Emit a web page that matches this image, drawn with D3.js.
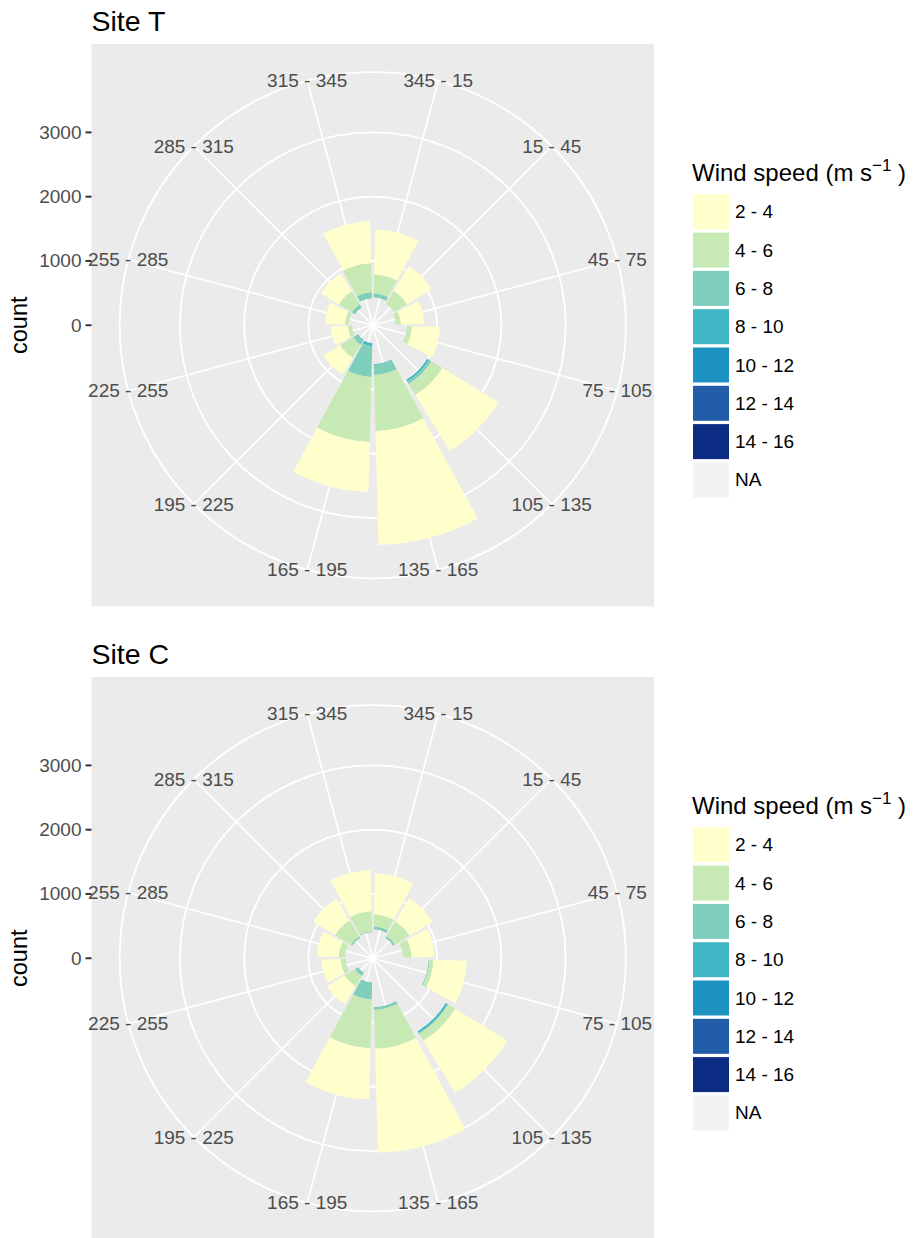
<!DOCTYPE html>
<html>
<head>
<meta charset="utf-8">
<script src="https://cdn.jsdelivr.net/npm/d3@7"></script>
<style>
  body { margin: 0; background: #fff; }
  svg { display: block; font-family: "Liberation Sans", Arial, sans-serif; }
</style>
</head>
<body>
<svg width="918" height="1238"></svg>
<script>
// direction bins, clockwise from the top
const directions = ["345 - 15", "15 - 45", "45 - 75", "75 - 105", "105 - 135", "135 - 165",
                    "165 - 195", "195 - 225", "225 - 255", "255 - 285", "285 - 315", "315 - 345"];
const speedBins = ["2 - 4", "4 - 6", "6 - 8", "8 - 10", "10 - 12", "12 - 14", "14 - 16", "NA"];
const binColors = ["#ffffcc", "#c7e9b4", "#7fcdbb", "#41b6c4", "#1d91c0", "#225ea8", "#0c2c84", "none"];
const countTicks = [0, 1000, 2000, 3000];

// Site T counts per direction
const siteT_na    = [435, 390, 360, 530, 995, 605, 280, 265, 325, 375, 325, 420];
const siteT_2_4   = [700, 450, 360, 435, 1025, 1775, 780, 305, 265, 310, 325, 655];
const siteT_4_6   = [295, 235, 80, 80, 200, 870, 1010, 235, 60, 60, 235, 450];
const siteT_6_8   = [60, 0, 0, 0, 45, 155, 480, 95, 0, 0, 60, 95];
const siteT_8_10  = [0, 0, 0, 0, 30, 15, 45, 0, 0, 0, 0, 0];
const siteT_10_12 = [0, 0, 0, 0, 0, 0, 0, 0, 0, 0, 0, 0];
const siteT_12_14 = [0, 0, 0, 0, 0, 0, 0, 0, 0, 0, 0, 0];
const siteT_14_16 = [0, 0, 0, 0, 0, 0, 0, 0, 0, 0, 0, 0];

// Site C counts per direction
const siteC_na    = [450, 375, 475, 870, 1335, 760, 375, 265, 420, 435, 375, 405];
const siteC_2_4   = [640, 420, 360, 520, 950, 1615, 795, 325, 295, 340, 395, 645];
const siteC_4_6   = [185, 265, 130, 60, 125, 605, 760, 185, 80, 95, 290, 310];
const siteC_6_8   = [45, 30, 0, 15, 15, 45, 265, 60, 0, 0, 25, 15];
const siteC_8_10  = [0, 0, 0, 0, 30, 0, 0, 0, 0, 0, 0, 0];
const siteC_10_12 = [0, 0, 0, 0, 0, 0, 0, 0, 0, 0, 0, 0];
const siteC_12_14 = [0, 0, 0, 0, 0, 0, 0, 0, 0, 0, 0, 0];
const siteC_14_16 = [0, 0, 0, 0, 0, 0, 0, 0, 0, 0, 0, 0];

function makeRows(series) {
  return directions.map((dir, i) => {
    const row = { dir: dir };
    speedBins.forEach((b, k) => { row[b] = series[k][i]; });
    return row;
  });
}

const siteT = makeRows([siteT_2_4, siteT_4_6, siteT_6_8, siteT_8_10, siteT_10_12, siteT_12_14, siteT_14_16, siteT_na]);
const siteC = makeRows([siteC_2_4, siteC_4_6, siteC_6_8, siteC_8_10, siteC_10_12, siteC_12_14, siteC_14_16, siteC_na]);

const svg = d3.select('svg');

const panelX = 91.5;
const size = 562.5;
const outerR = 0.45 * size;

const color = d3.scaleOrdinal().domain(speedBins).range(binColors);
const r = d3.scaleLinear().domain([0, 3500]).range([0, 0.4 * size]);
const theta = d3.scaleBand().domain(directions).range([0, 2 * Math.PI])
    .paddingInner(0.1).paddingOuter(0.05);

// NA sits at the centre, the slowest class on the outside
const stack = d3.stack().keys(speedBins.slice().reverse());

function drawPanel(title, rows, panelY) {
  const cx = panelX + size / 2;
  const cy = panelY + size / 2;

  svg.append('text')
      .attr('x', panelX)
      .attr('y', panelY - 13.5)
      .attr('font-size', 28.5)
      .attr('fill', '#000')
      .text(title);

  svg.append('rect')
      .attr('x', panelX).attr('y', panelY)
      .attr('width', size).attr('height', size)
      .attr('fill', '#ebebeb');

  const g = svg.append('g').attr('transform', `translate(${cx}, ${cy})`);

  // grid circles
  g.selectAll('circle.grid')
    .data(countTicks.filter(d => d > 0).map(d => r(d)).concat([outerR]))
    .enter().append('circle')
      .attr('r', d => d)
      .attr('fill', 'none')
      .attr('stroke', '#fff')
      .attr('stroke-width', 1.9);

  const mid = d => theta(d) + theta.bandwidth() / 2;

  // radial lines
  g.selectAll('line.spoke')
    .data(directions)
    .enter().append('line')
      .attr('x1', 0).attr('y1', 0)
      .attr('x2', d => outerR * Math.sin(mid(d)))
      .attr('y2', d => -outerR * Math.cos(mid(d)))
      .attr('stroke', '#fff')
      .attr('stroke-width', 1.7);

  // stacked bars
  const arc = d3.arc()
      .innerRadius(d => r(d[0]))
      .outerRadius(d => r(d[1]))
      .startAngle(d => theta(d.data.dir))
      .endAngle(d => theta(d.data.dir) + theta.bandwidth());

  const layers = stack(rows);
  g.selectAll('g.layer')
    .data(layers)
    .enter().append('g')
      .attr('fill', d => color(d.key))
    .selectAll('path')
    .data(d => d.filter(s => s[1] > s[0]))
    .enter().append('path')
      .attr('d', arc);

  // direction labels
  g.selectAll('text.dir')
    .data(directions)
    .enter().append('text')
      .attr('x', d => outerR * Math.sin(mid(d)))
      .attr('y', d => -outerR * Math.cos(mid(d)))
      .attr('text-anchor', 'middle')
      .attr('dominant-baseline', 'central')
      .attr('font-size', 19)
      .attr('fill', '#4d4d4d')
      .text(d => d);

  // count axis on the left
  const ax = svg.append('g');
  ax.selectAll('line')
    .data(countTicks)
    .enter().append('line')
      .attr('x1', panelX - 6).attr('x2', panelX)
      .attr('y1', d => cy - r(d)).attr('y2', d => cy - r(d))
      .attr('stroke', '#333')
      .attr('stroke-width', 2);
  ax.selectAll('text')
    .data(countTicks)
    .enter().append('text')
      .attr('x', panelX - 10)
      .attr('y', d => cy - r(d))
      .attr('text-anchor', 'end')
      .attr('dominant-baseline', 'central')
      .attr('font-size', 19)
      .attr('fill', '#4d4d4d')
      .text(d => d);

  svg.append('text')
      .attr('transform', `translate(27, ${cy}) rotate(-90)`)
      .attr('text-anchor', 'middle')
      .attr('font-size', 23.5)
      .attr('fill', '#000')
      .text('count');

  // legend
  const lg = svg.append('g').attr('transform', `translate(693, ${panelY + 137})`);
  const lt = lg.append('text').attr('x', -1).attr('y', 0).attr('font-size', 24).attr('fill', '#000');
  lt.append('tspan').text('Wind speed (m s');
  lt.append('tspan').attr('dy', -10).attr('font-size', 17).text('\u22121');
  lt.append('tspan').attr('dy', 10).text(' )');

  const keys = lg.selectAll('g.key')
    .data(speedBins)
    .enter().append('g')
      .attr('transform', (d, i) => `translate(0, ${13.3 + i * 38.3})`);
  keys.append('rect')
      .attr('width', 36).attr('height', 35)
      .attr('fill', d => d === 'NA' ? '#f2f2f2' : color(d));
  keys.append('text')
      .attr('x', 42).attr('y', 17.5)
      .attr('dominant-baseline', 'central')
      .attr('font-size', 19)
      .attr('fill', '#000')
      .text(d => d);
}

drawPanel('Site T', siteT, 44);
drawPanel('Site C', siteC, 677);
</script>
</body>
</html>
